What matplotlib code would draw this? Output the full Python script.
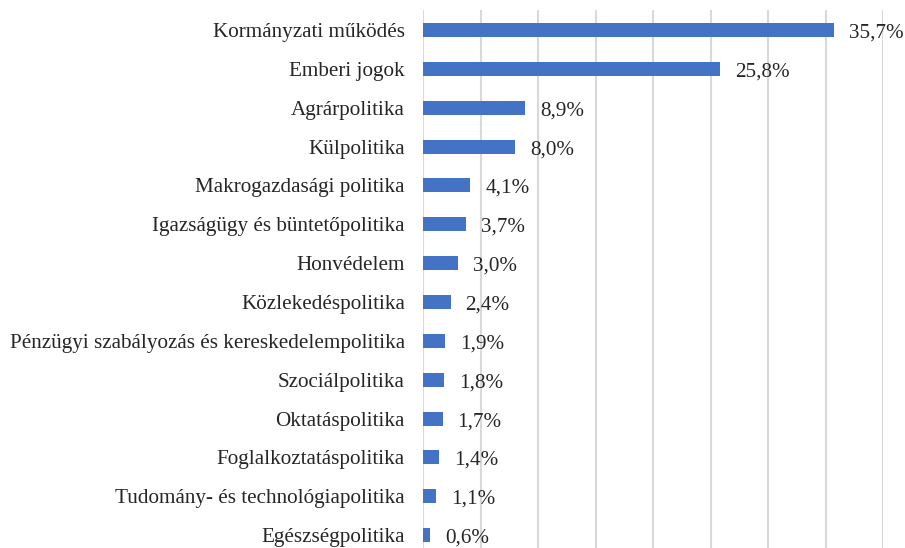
import matplotlib.pyplot as plt

# -----------------------------
# Data
# -----------------------------
categories = [
    "Kormányzati működés",
    "Emberi jogok",
    "Agrárpolitika",
    "Külpolitika",
    "Makrogazdasági politika",
    "Igazságügy és büntetőpolitika",
    "Honvédelem",
    "Közlekedéspolitika",
    "Pénzügyi szabályozás és kereskedelempolitika",
    "Szociálpolitika",
    "Oktatáspolitika",
    "Foglalkoztatáspolitika",
    "Tudomány- és technológiapolitika",
    "Egészségpolitika",
]
shares = [35.7, 25.8, 8.9, 8.0, 4.1, 3.7, 3.0, 2.4, 1.9, 1.8, 1.7, 1.4, 1.1, 0.6]

BAR_COLOR = "#4472C4"
GRID_COLOR = "#D9D9D9"
TEXT_COLOR = "#262626"

plt.rcParams["font.family"] = ["Liberation Serif", "DejaVu Serif"]

fig = plt.figure(figsize=(9.05, 5.48), dpi=100)
ax = fig.add_axes([423 / 905, 0.0, (883 - 423) / 905, (548 - 10) / 548])

ypos = list(range(len(categories)))
ax.barh(ypos, shares, height=0.36, color=BAR_COLOR, zorder=3)

# value labels with decimal comma
for y, v in zip(ypos, shares):
    ax.annotate(f"{v:.1f}%".replace(".", ","), xy=(v, y), xytext=(15, -3),
                textcoords="offset pixels", va="center", ha="left",
                fontsize=15.2, color=TEXT_COLOR)

ax.set_xlim(0, 40)
ax.set_ylim(13.33, -0.515)
ax.set_xticks(range(0, 41, 5))
ax.set_xticklabels([])
ax.set_yticks(ypos)
ax.set_yticklabels(categories, fontsize=15.2, color=TEXT_COLOR)
ax.tick_params(axis="both", length=0)
ax.tick_params(axis="y", pad=13)
ax.grid(axis="x", color=GRID_COLOR, linewidth=1.5, zorder=0)
for s in ax.spines.values():
    s.set_visible(False)

fig.savefig("out.png", dpi=100)
